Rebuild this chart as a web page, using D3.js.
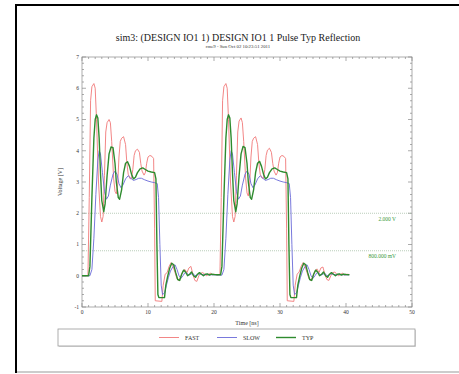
<!DOCTYPE html>
<html>
<head>
<meta charset="utf-8">
<script src="https://cdn.jsdelivr.net/npm/d3@7"></script>
<style>
  body { margin: 0; background: #fff; }
  svg text { font-family: "Liberation Serif", "DejaVu Serif", serif; }
</style>
</head>
<body>
<div id="chart"></div>
<script>
const WIDTH = 459;
const HEIGHT = 374;

const title = 'sim3: (DESIGN IO1 1) DESIGN IO1 1 Pulse Typ Reflection';
const subtitle = 'rme9 - Sun Oct 02 10:23:51 2011';
const xLabel = 'Time [ns]';
const yLabel = 'Voltage [V]';

const xTicks = [0, 10, 20, 30, 40, 50];
const yTicks = [-1, 0, 1, 2, 3, 4, 5, 6, 7];

const thresholds = [2.0, 0.8];
const thresholdLabels = ['2.000 V', '800.000 mV'];

const seriesNames = ['FAST', 'SLOW', 'TYP'];

// [time ns, volts]
const fast = [
  [0, 0], [0.9, 0], [1.1, 2.5], [1.3, 5.6], [1.5, 6.05], [1.8, 6.15], [2.0, 6.0], [2.2, 5.0],
  [2.5, 3.0], [2.8, 1.9], [3.0, 1.72], [3.2, 1.9], [3.4, 3.2], [3.6, 4.6], [3.8, 4.9], [4.1, 5.0],
  [4.3, 4.9], [4.5, 4.3], [4.8, 3.1], [5.0, 2.7], [5.2, 2.62], [5.4, 2.9], [5.6, 3.8], [5.8, 4.3],
  [6.0, 4.4], [6.3, 4.45], [6.6, 4.2], [6.8, 3.6], [7.0, 3.25], [7.3, 3.1], [7.5, 3.12], [7.7, 3.4],
  [7.9, 3.85], [8.1, 4.0], [8.4, 4.05], [8.7, 3.95], [8.9, 3.6], [9.1, 3.35], [9.4, 3.22], [9.6, 3.3],
  [9.8, 3.6], [10.0, 3.8], [10.3, 3.85], [10.6, 3.82], [10.85, 3.75], [11.0, 1.5], [11.1, -0.8],
  [12.1, -0.82], [12.3, -0.3], [12.6, 0.05], [12.9, 0.1], [13.2, 0.3], [13.5, 0.42], [13.8, 0.3],
  [14.1, 0.1], [14.4, -0.1], [14.7, -0.15], [15.0, 0.0], [15.3, 0.15], [15.6, 0.2], [15.9, 0.1],
  [16.2, 0.25], [16.5, 0.3], [16.8, 0.05], [17.1, -0.15], [17.4, -0.18], [17.7, 0.0], [18.0, 0.08],
  [18.3, 0.1], [18.6, 0.05], [18.9, 0.0], [19.2, 0.05], [19.5, 0.08], [19.8, 0.03], [20.1, 0.05],
  [20.5, 0.02], [20.9, 0.04],
  [21.1, 2.5], [21.3, 5.6], [21.5, 6.05], [21.8, 6.15], [22.0, 6.0], [22.2, 5.0],
  [22.5, 3.0], [22.8, 1.9], [23.0, 1.72], [23.2, 1.9], [23.4, 3.2], [23.6, 4.6], [23.8, 4.95], [24.1, 5.05],
  [24.3, 4.9], [24.5, 4.3], [24.8, 3.1], [25.0, 2.65], [25.2, 2.55], [25.4, 2.9], [25.6, 3.8], [25.8, 4.3],
  [26.0, 4.4], [26.3, 4.45], [26.6, 4.2], [26.8, 3.6], [27.0, 3.25], [27.3, 3.12], [27.5, 3.13], [27.7, 3.4],
  [27.9, 3.85], [28.1, 4.02], [28.4, 4.08], [28.7, 3.95], [28.9, 3.6], [29.1, 3.35], [29.4, 3.22], [29.6, 3.3],
  [29.8, 3.6], [30.0, 3.8], [30.3, 3.85], [30.6, 3.82], [30.85, 3.75], [31.0, 1.5], [31.1, -0.8],
  [32.1, -0.82], [32.3, -0.3], [32.6, 0.05], [32.9, 0.12], [33.2, 0.3], [33.5, 0.42], [33.8, 0.3],
  [34.1, 0.1], [34.4, -0.1], [34.7, -0.15], [35.0, 0.0], [35.3, 0.15], [35.6, 0.22], [35.9, 0.1],
  [36.2, 0.25], [36.5, 0.28], [36.8, 0.05], [37.1, -0.12], [37.4, -0.15], [37.7, 0.0], [38.0, 0.1],
  [38.3, 0.12], [38.6, 0.05], [38.9, 0.0], [39.2, 0.05], [39.5, 0.08], [39.8, 0.02], [40.1, 0.05],
  [40.5, 0.04]
];

const slow = [
  [0, 0], [1.2, 0], [1.5, 0.2], [1.8, 1.2], [2.1, 2.6], [2.4, 3.7], [2.6, 4.0], [2.8, 3.9],
  [3.1, 3.3], [3.4, 2.7], [3.7, 2.45], [4.0, 2.55], [4.3, 2.9], [4.7, 3.25], [5.0, 3.35], [5.3, 3.25],
  [5.6, 2.95], [5.9, 2.82], [6.2, 2.9], [6.6, 3.1], [7.0, 3.2], [7.4, 3.12], [7.8, 3.05], [8.2, 3.08],
  [8.6, 3.12], [9.0, 3.12], [9.5, 3.07], [10.0, 3.03], [10.5, 3.0], [11.0, 2.98], [11.4, 2.95],
  [11.6, 2.5], [11.8, 1.0], [12.0, -0.3], [12.2, -0.6], [12.5, -0.55], [12.8, -0.3], [13.1, -0.05],
  [13.4, 0.15], [13.8, 0.3], [14.1, 0.35], [14.4, 0.2], [14.7, 0.0], [15.0, -0.08], [15.3, 0.0],
  [15.6, 0.1], [15.9, 0.08], [16.2, 0.02], [16.5, 0.05], [16.8, 0.08], [17.1, 0.0], [17.4, 0.02],
  [17.7, 0.06], [18.0, 0.05], [18.5, 0.03], [19.0, 0.04], [19.5, 0.03], [20.0, 0.03], [21.2, 0.02],
  [21.5, 0.2], [21.8, 1.2], [22.1, 2.6], [22.4, 3.7], [22.6, 4.0], [22.8, 3.9],
  [23.1, 3.3], [23.4, 2.7], [23.7, 2.45], [24.0, 2.55], [24.3, 2.9], [24.7, 3.25], [25.0, 3.35], [25.3, 3.25],
  [25.6, 2.95], [25.9, 2.82], [26.2, 2.9], [26.6, 3.1], [27.0, 3.2], [27.4, 3.12], [27.8, 3.05], [28.2, 3.08],
  [28.6, 3.12], [29.0, 3.12], [29.5, 3.07], [30.0, 3.03], [30.5, 3.0], [31.0, 2.98], [31.4, 2.95],
  [31.6, 2.5], [31.8, 1.0], [32.0, -0.3], [32.2, -0.6], [32.5, -0.55], [32.8, -0.3], [33.1, -0.05],
  [33.4, 0.15], [33.8, 0.3], [34.1, 0.35], [34.4, 0.2], [34.7, 0.0], [35.0, -0.08], [35.3, 0.0],
  [35.6, 0.1], [35.9, 0.08], [36.2, 0.02], [36.5, 0.05], [36.8, 0.08], [37.1, 0.0], [37.4, 0.02],
  [37.7, 0.06], [38.0, 0.05], [38.5, 0.03], [39.0, 0.04], [39.5, 0.03], [40.0, 0.03], [40.5, 0.03]
];

const typ = [
  [0, 0], [1.0, 0], [1.2, 0.3], [1.5, 2.5], [1.8, 4.4], [2.0, 5.0], [2.2, 5.15], [2.4, 5.05],
  [2.6, 4.4], [2.8, 3.3], [3.0, 2.4], [3.3, 2.05], [3.5, 2.3], [3.8, 3.2], [4.1, 3.9], [4.4, 4.12],
  [4.7, 4.1], [5.0, 3.6], [5.2, 3.0], [5.5, 2.5], [5.7, 2.45], [6.0, 2.75], [6.3, 3.3], [6.6, 3.6],
  [6.9, 3.65], [7.2, 3.5], [7.5, 3.25], [7.8, 3.1], [8.1, 3.15], [8.4, 3.3], [8.8, 3.42], [9.2, 3.45],
  [9.6, 3.4], [10.0, 3.35], [10.5, 3.32], [11.0, 3.3], [11.2, 3.1], [11.35, 1.0], [11.5, -0.6],
  [11.65, -0.7], [12.5, -0.7], [12.7, -0.3], [13.0, 0.0], [13.3, 0.25], [13.6, 0.4], [13.9, 0.35],
  [14.2, 0.1], [14.5, -0.12], [14.8, -0.15], [15.1, 0.05], [15.4, 0.18], [15.7, 0.12], [16.0, 0.0],
  [16.3, 0.05], [16.6, 0.12], [16.9, 0.0], [17.2, -0.05], [17.5, 0.05], [17.8, 0.1], [18.1, 0.05],
  [18.4, 0.0], [18.7, 0.05], [19.0, 0.06], [19.3, 0.02], [19.6, 0.05], [20.0, 0.04], [20.5, 0.03],
  [21.0, 0.03],
  [21.2, 0.3], [21.5, 2.5], [21.8, 4.4], [22.0, 5.0], [22.2, 5.15], [22.4, 5.05],
  [22.6, 4.4], [22.8, 3.3], [23.0, 2.4], [23.3, 2.05], [23.5, 2.3], [23.8, 3.2], [24.1, 3.9], [24.4, 4.14],
  [24.7, 4.1], [25.0, 3.6], [25.2, 3.0], [25.5, 2.5], [25.7, 2.45], [26.0, 2.75], [26.3, 3.3], [26.6, 3.6],
  [26.9, 3.66], [27.2, 3.5], [27.5, 3.25], [27.8, 3.1], [28.1, 3.15], [28.4, 3.3], [28.8, 3.42], [29.2, 3.45],
  [29.6, 3.4], [30.0, 3.35], [30.5, 3.32], [31.0, 3.3], [31.2, 3.1], [31.35, 1.0], [31.5, -0.6],
  [31.65, -0.7], [32.5, -0.7], [32.7, -0.3], [33.0, 0.0], [33.3, 0.25], [33.6, 0.4], [33.9, 0.35],
  [34.2, 0.1], [34.5, -0.12], [34.8, -0.15], [35.1, 0.05], [35.4, 0.18], [35.7, 0.12], [36.0, 0.0],
  [36.3, 0.05], [36.6, 0.12], [36.9, 0.0], [37.2, -0.05], [37.5, 0.05], [37.8, 0.1], [38.1, 0.05],
  [38.4, 0.0], [38.7, 0.05], [39.0, 0.06], [39.3, 0.02], [39.6, 0.05], [40.0, 0.04], [40.5, 0.03]
];

const colors = { FAST: '#f07878', SLOW: '#6a6ad8', TYP: '#2e8b2e' };
const widths = { FAST: 0.9, SLOW: 0.9, TYP: 1.4 };

const svg = d3.select('#chart')
  .append('svg')
  .attr('width', WIDTH)
  .attr('height', HEIGHT)
  .attr('font-family', '"Liberation Serif", "DejaVu Serif", serif');

// outer frame
svg.append('rect')
  .attr('x', 16).attr('y', 5)
  .attr('width', 460).attr('height', 367)
  .attr('fill', 'none')
  .attr('stroke', '#000')
  .attr('stroke-width', 2);
svg.append('line')
  .attr('x1', 17).attr('x2', WIDTH)
  .attr('y1', 372).attr('y2', 372)
  .attr('stroke', '#ccc').attr('stroke-width', 2);

const margin = { left: 82, top: 57, right: 412, bottom: 307 };

const x = d3.scaleLinear().domain([0, 50]).range([margin.left, margin.right]);
const y = d3.scaleLinear().domain([-1, 7]).range([margin.bottom, margin.top]);

svg.append('text')
  .attr('x', 238).attr('y', 41)
  .attr('text-anchor', 'middle')
  .attr('font-size', 10)
  .attr('fill', '#222')
  .text(title);

svg.append('text')
  .attr('x', 238).attr('y', 48)
  .attr('text-anchor', 'middle')
  .attr('font-size', 4.8)
  .attr('fill', '#333')
  .text(subtitle);

// plot box
svg.append('rect')
  .attr('x', margin.left).attr('y', margin.top)
  .attr('width', margin.right - margin.left)
  .attr('height', margin.bottom - margin.top)
  .attr('fill', 'none')
  .attr('stroke', '#999')
  .attr('stroke-width', 0.8);

const tickColor = '#888';
const xMinor = d3.range(0, 51, 1);
const yMinor = d3.range(-1, 7.01, 0.2);

const axisG = svg.append('g').attr('stroke', tickColor).attr('stroke-width', 0.7);
xMinor.forEach(t => {
  const len = t % 10 === 0 ? 4 : 2;
  axisG.append('line').attr('x1', x(t)).attr('x2', x(t))
    .attr('y1', margin.bottom).attr('y2', margin.bottom - len);
  axisG.append('line').attr('x1', x(t)).attr('x2', x(t))
    .attr('y1', margin.top).attr('y2', margin.top + len);
});
yMinor.forEach(v => {
  const major = Math.abs(v - Math.round(v)) < 1e-6;
  const len = major ? 4 : 2;
  axisG.append('line').attr('y1', y(v)).attr('y2', y(v))
    .attr('x1', margin.left).attr('x2', margin.left + len);
  axisG.append('line').attr('y1', y(v)).attr('y2', y(v))
    .attr('x1', margin.right).attr('x2', margin.right - len);
});

svg.append('g')
  .selectAll('text')
  .data(xTicks)
  .enter().append('text')
    .attr('x', d => x(d))
    .attr('y', margin.bottom + 7)
    .attr('text-anchor', 'middle')
    .attr('font-size', 5.5)
    .attr('fill', '#333')
    .text(d => d);

svg.append('g')
  .selectAll('text')
  .data(yTicks)
  .enter().append('text')
    .attr('x', margin.left - 3)
    .attr('y', d => y(d) + 1.8)
    .attr('text-anchor', 'end')
    .attr('font-size', 5.5)
    .attr('fill', '#333')
    .text(d => d);

svg.append('text')
  .attr('x', (margin.left + margin.right) / 2)
  .attr('y', margin.bottom + 18)
  .attr('text-anchor', 'middle')
  .attr('font-size', 6)
  .attr('fill', '#333')
  .text(xLabel);

svg.append('text')
  .attr('transform', `translate(62,${(margin.top + margin.bottom) / 2}) rotate(-90)`)
  .attr('text-anchor', 'middle')
  .attr('font-size', 6)
  .attr('fill', '#333')
  .text(yLabel);

// threshold lines
thresholds.forEach((v, i) => {
  svg.append('line')
    .attr('x1', margin.left).attr('x2', margin.right)
    .attr('y1', y(v)).attr('y2', y(v))
    .attr('stroke', '#9cb89c')
    .attr('stroke-width', 0.7)
    .attr('stroke-dasharray', '1,1');
  svg.append('text')
    .attr('x', 396).attr('y', y(v) + 7.5)
    .attr('text-anchor', 'end')
    .attr('font-size', 5.5)
    .attr('fill', '#3a9a3a')
    .text(thresholdLabels[i]);
});

const line = d3.line()
  .x(d => x(d[0]))
  .y(d => y(d[1]));

const seriesData = { FAST: fast, SLOW: slow, TYP: typ };

svg.append('g')
  .attr('fill', 'none')
  .selectAll('path')
  .data(seriesNames)
  .enter().append('path')
    .attr('d', name => line(seriesData[name]))
    .attr('stroke', name => colors[name])
    .attr('stroke-width', name => widths[name])
    .attr('stroke-linejoin', 'round');

// legend
svg.append('rect')
  .attr('x', 59).attr('y', 330)
  .attr('width', 357).attr('height', 17)
  .attr('fill', '#ddd');
svg.append('rect')
  .attr('x', 58).attr('y', 329)
  .attr('width', 357).attr('height', 17)
  .attr('fill', '#fff')
  .attr('stroke', '#999')
  .attr('stroke-width', 0.8);

const legendX = [159, 217, 276];
seriesNames.forEach((name, i) => {
  svg.append('line')
    .attr('x1', legendX[i]).attr('x2', legendX[i] + 20)
    .attr('y1', 337.5).attr('y2', 337.5)
    .attr('stroke', colors[name])
    .attr('stroke-width', widths[name]);
  svg.append('text')
    .attr('x', legendX[i] + 26).attr('y', 339.5)
    .attr('font-size', 6)
    .attr('fill', '#333')
    .text(name);
});
</script>
</body>
</html>
